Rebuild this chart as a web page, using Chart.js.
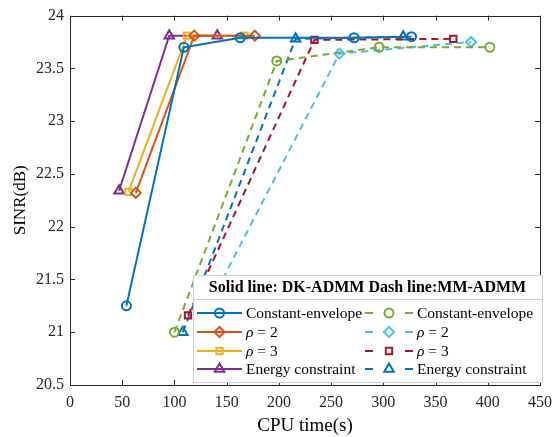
<!DOCTYPE html>
<html>
<head>
<meta charset="utf-8">
<script src="https://cdn.jsdelivr.net/npm/chart.js@4.4.1/dist/chart.umd.min.js"></script>
<style>
html, body { margin: 0; padding: 0; background: #fff; }
</style>
</head>
<body>
<canvas id="sinrChart" width="560" height="437"></canvas>
<script>
// CPU time (s) and SINR (dB)
const ceSolidX = [54, 109, 163, 272, 327];
const ceSolidY = [21.25, 23.70, 23.79, 23.79, 23.80];
const rho2SolidX = [63, 119, 177];
const rho2SolidY = [22.32, 23.81, 23.81];
const rho3SolidX = [56, 112, 167];
const rho3SolidY = [22.33, 23.81, 23.81];
const energySolidX = [47, 95, 141];
const energySolidY = [22.34, 23.81, 23.81];

const ceDashX = [100, 198, 296, 402];
const ceDashY = [21.0, 23.57, 23.70, 23.70];
const rho2DashX = [125, 258, 384];
const rho2DashY = [21.1, 23.64, 23.75];
const rho3DashX = [113, 234, 367];
const rho3DashY = [21.16, 23.77, 23.78];
const energyDashX = [108, 216, 319];
const energyDashY = [21.0, 23.78, 23.80];

const seriesNames = ['Constant-envelope', 'ρ = 2', 'ρ = 3', 'Energy constraint'];
const xTicks = [0, 50, 100, 150, 200, 250, 300, 350, 400, 450];
const yTicks = [20.5, 21, 21.5, 22, 22.5, 23, 23.5, 24];

const axisColor = '#262626';
const FONT = '"Liberation Serif", "Times New Roman", serif';

function pts(xs, ys) {
    return xs.map((x, i) => ({x: x, y: ys[i]}));
}

function series(label, xs, ys, color, style, radius, dashed) {
    return {
        label: label,
        data: pts(xs, ys),
        showLine: true,
        borderColor: color,
        backgroundColor: 'rgba(0,0,0,0)',
        borderWidth: 2,
        borderDash: dashed ? [7, 5] : [],
        pointStyle: style,
        pointRadius: radius,
        pointBorderWidth: 2,
        pointBorderColor: color,
        pointBackgroundColor: 'rgba(0,0,0,0)',
        tension: 0,
    };
}

const datasets = [
    series(seriesNames[0], ceSolidX, ceSolidY, '#0072BD', 'circle', 4.5, false),
    series(seriesNames[1], rho2SolidX, rho2SolidY, '#D95319', 'rectRot', 5, false),
    series(seriesNames[2], rho3SolidX, rho3SolidY, '#EDB120', 'rect', 4.5, false),
    series(seriesNames[3], energySolidX, energySolidY, '#7E2F8E', 'triangle', 5.5, false),
    series(seriesNames[0], ceDashX, ceDashY, '#77AC30', 'circle', 4.5, true),
    series(seriesNames[1], rho2DashX, rho2DashY, '#4DBEEE', 'rectRot', 5, true),
    series(seriesNames[2], rho3DashX, rho3DashY, '#A2142F', 'rect', 4.5, true),
    series(seriesNames[3], energyDashX, energyDashY, '#0072BD', 'triangle', 5.5, true),
];

// box around the axes with inward ticks on all four sides
const frameTicks = {
    id: 'frameTicks',
    afterDatasetsDraw(chart) {
        const ctx = chart.ctx;
        const a = chart.chartArea;
        const xs = chart.scales.x, ys = chart.scales.y;
        ctx.save();
        ctx.strokeStyle = axisColor;
        ctx.lineWidth = 1;
        ctx.beginPath();
        xTicks.forEach(v => {
            const px = Math.round(xs.getPixelForValue(v)) + 0.5;
            ctx.moveTo(px, a.bottom); ctx.lineTo(px, a.bottom - 5);
            ctx.moveTo(px, a.top); ctx.lineTo(px, a.top + 5);
        });
        yTicks.forEach(v => {
            const py = Math.round(ys.getPixelForValue(v)) + 0.5;
            ctx.moveTo(a.left, py); ctx.lineTo(a.left + 5, py);
            ctx.moveTo(a.right, py); ctx.lineTo(a.right - 5, py);
        });
        ctx.stroke();
        ctx.strokeRect(Math.round(a.left) + 0.5, Math.round(a.top) + 0.5,
            Math.round(a.right - a.left), Math.round(a.bottom - a.top));
        ctx.restore();
    }
};

function drawLabel(ctx, text, x, y) {
    ctx.textAlign = 'left';
    ctx.textBaseline = 'middle';
    if (text.startsWith('ρ')) {
        ctx.font = 'italic 15.5px ' + FONT;
        ctx.fillText('ρ', x, y);
        const w = ctx.measureText('ρ').width;
        ctx.font = '15.5px ' + FONT;
        ctx.fillText(text.slice(1), x + w, y);
    } else {
        ctx.font = '15.5px ' + FONT;
        ctx.fillText(text, x, y);
    }
}

// two-column legend with a title row
const boxLegend = {
    id: 'boxLegend',
    afterDraw(chart) {
        const ctx = chart.ctx;
        const L = 193, T = 275, R = 542, B = 382;
        ctx.save();
        ctx.fillStyle = '#fff';
        ctx.fillRect(L, T, R - L, B - T);
        ctx.strokeStyle = '#cfcfcf';
        ctx.lineWidth = 1;
        ctx.strokeRect(L + 0.5, T + 0.5, R - L, B - T);
        ctx.beginPath();
        ctx.moveTo(L, 299.5); ctx.lineTo(R, 299.5);
        ctx.stroke();

        ctx.fillStyle = '#000';
        ctx.font = 'bold 16px ' + FONT;
        ctx.textAlign = 'center';
        ctx.textBaseline = 'middle';
        ctx.fillText('Solid line: DK-ADMM Dash line:MM-ADMM', (L + R) / 2, 288);

        const rowY = [313, 332, 351, 369];
        chart.data.datasets.forEach((ds, i) => {
            const col = i < 4 ? 0 : 1;
            const y = rowY[i % 4];
            const x0 = col === 0 ? 197 : 365;
            const x1 = col === 0 ? 242 : 413;
            const mx = (x0 + x1) / 2;
            ctx.strokeStyle = ds.borderColor;
            ctx.lineWidth = 2;
            ctx.beginPath();
            if (col === 0) {
                ctx.moveTo(x0, y); ctx.lineTo(x1, y);
            } else {
                ctx.moveTo(x0, y); ctx.lineTo(x0 + 8, y);
                ctx.moveTo(x1 - 8, y); ctx.lineTo(x1, y);
            }
            ctx.stroke();
            ctx.fillStyle = 'rgba(0,0,0,0)';
            Chart.helpers.drawPoint(ctx, {
                pointStyle: ds.pointStyle,
                radius: ds.pointRadius,
                rotation: 0,
                borderWidth: 2
            }, mx, y);
            ctx.fillStyle = '#000';
            drawLabel(ctx, ds.label, x1 + 4, y + 1);
        });
        ctx.restore();
    }
};

Chart.defaults.font.family = FONT;
Chart.defaults.color = axisColor;

new Chart(
    document.getElementById('sinrChart'),
    {
        type: 'scatter',
        data: { datasets: datasets },
        options: {
            responsive: false,
            animation: false,
            layout: { padding: { top: 11, right: 14, left: 6, bottom: 0 } },
            scales: {
                x: {
                    type: 'linear',
                    min: 0,
                    max: 450,
                    afterBuildTicks: s => { s.ticks = xTicks.map(v => ({value: v})); },
                    afterFit: s => { s.height = 52; },
                    grid: { drawOnChartArea: false, drawTicks: false },
                    border: { display: false },
                    ticks: { padding: 8, font: { size: 16 }, color: axisColor, maxRotation: 0,
                             callback: v => String(v) },
                    title: { display: true, text: 'CPU time(s)', font: { size: 19 }, color: '#000',
                             padding: { top: 0, bottom: 0 } }
                },
                y: {
                    type: 'linear',
                    min: 20.5,
                    max: 24,
                    afterBuildTicks: s => { s.ticks = yTicks.map(v => ({value: v})); },
                    afterFit: s => { s.width = 64; },
                    grid: { drawOnChartArea: false, drawTicks: false },
                    border: { display: false },
                    ticks: { padding: 6, font: { size: 16 }, color: axisColor,
                             callback: v => String(v) },
                    title: { display: true, text: 'SINR(dB)', font: { size: 17 }, color: '#000', padding: { bottom: 2 } }
                }
            },
            plugins: {
                legend: { display: false },
                tooltip: { enabled: false }
            }
        },
        plugins: [frameTicks, boxLegend]
    });
</script>
</body>
</html>
